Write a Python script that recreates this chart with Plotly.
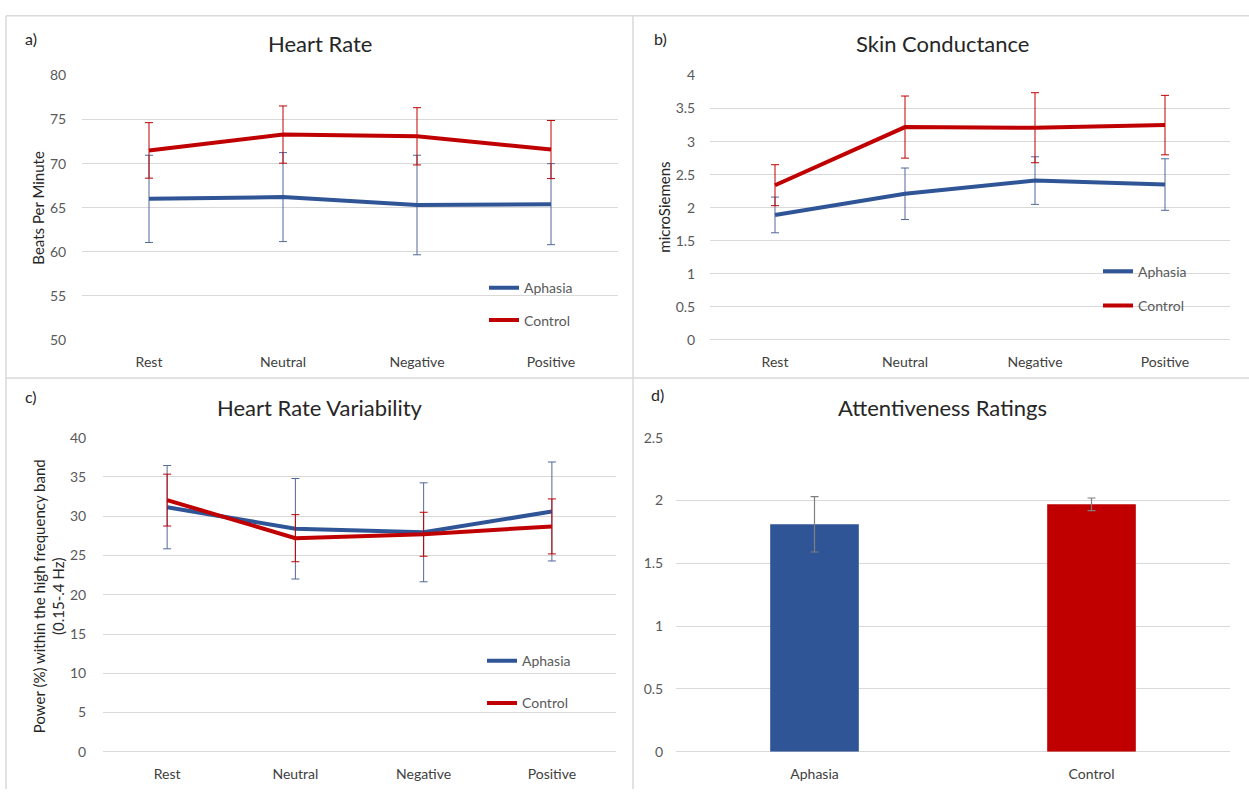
import plotly.graph_objects as go

W, H = 1249, 797
FONT = "Lato"

conditions = ["Rest", "Neutral", "Negative", "Positive"]

hr_aphasia = [66.0, 66.2, 65.3, 65.4]
hr_aphasia_err = [4.95, 5.05, 5.65, 4.6]
hr_control = [71.5, 73.3, 73.1, 71.6]
hr_control_err = [3.15, 3.25, 3.25, 3.3]

sc_aphasia = [1.89, 2.21, 2.41, 2.35]
sc_aphasia_err = [0.27, 0.39, 0.36, 0.39]
sc_control = [2.34, 3.22, 3.21, 3.25]
sc_control_err = [0.31, 0.47, 0.53, 0.45]

hrv_aphasia = [31.15, 28.4, 27.95, 30.6]
hrv_aphasia_err = [5.3, 6.4, 6.3, 6.3]
hrv_control = [32.05, 27.2, 27.7, 28.7]
hrv_control_err = [3.3, 3.0, 2.8, 3.5]

groups = ["Aphasia", "Control"]
attentiveness = [1.81, 1.97]
attentiveness_err = [0.22, 0.05]

BLUE = "#2F5597"
RED = "#C00000"
BLUE_ERR = "#50699A"
GRID = "#D9D9D9"
TICK = "#595959"


def px_x(p):
    return p / W


def px_y(p):
    return 1 - p / H


fig = go.Figure()

panels = [
    ("x", "y", hr_aphasia, hr_aphasia_err, hr_control, hr_control_err, "legend"),
    ("x2", "y2", sc_aphasia, sc_aphasia_err, sc_control, sc_control_err, "legend2"),
    ("x3", "y3", hrv_aphasia, hrv_aphasia_err, hrv_control, hrv_control_err, "legend3"),
]

for i, (xa, ya, av, ae, cv, ce, lg) in enumerate(panels):
    fig.add_trace(go.Scatter(
        x=conditions, y=av, mode="lines", name="Aphasia",
        line=dict(color=BLUE, width=4),
        error_y=dict(type="data", array=ae, visible=True, color=BLUE_ERR, thickness=1, width=4),
        xaxis=xa, yaxis=ya, legend=lg, legendgroup=f"a{i}", showlegend=True,
    ))
    fig.add_trace(go.Scatter(
        x=conditions, y=cv, mode="lines", name="Control",
        line=dict(color=RED, width=4),
        error_y=dict(type="data", array=ce, visible=True, color=RED, thickness=1, width=4),
        xaxis=xa, yaxis=ya, legend=lg, legendgroup=f"c{i}", showlegend=True,
    ))

fig.add_trace(go.Bar(
    x=groups, y=attentiveness,
    marker=dict(color=[BLUE, RED], line=dict(width=0)),
    error_y=dict(type="data", array=attentiveness_err, visible=True, color="#7F7F7F", thickness=1.2, width=4),
    xaxis="x4", yaxis="y4", showlegend=False, width=0.32,
))

axis_font = dict(family=FONT, size=14, color=TICK)


def xaxis(dom, anchor, ncat):
    return dict(domain=[px_x(dom[0]), px_x(dom[1])], anchor=anchor, type="category",
                range=[-0.5, ncat - 0.5], showgrid=False, showline=False, zeroline=False,
                ticks="outside", ticklen=9, tickcolor="rgba(0,0,0,0)",
                tickfont=dict(family=FONT, size=14, color="#404040"), fixedrange=True)


def yaxis(dom, anchor, rng, dtick, standoff):
    return dict(domain=[px_y(dom[1]), px_y(dom[0])], anchor=anchor, range=rng, dtick=dtick,
                showgrid=True, gridcolor=GRID, gridwidth=1, zeroline=True, zerolinecolor=GRID,
                zerolinewidth=1, showline=False, ticks="outside", ticklen=standoff,
                tickcolor="rgba(0,0,0,0)", tickfont=axis_font, fixedrange=True)


fig.update_layout(
    width=W, height=H,
    margin=dict(l=0, r=0, t=0, b=0),
    paper_bgcolor="white", plot_bgcolor="white",
    font=dict(family=FONT, color="#404040"),
    xaxis=xaxis((82, 618), "y", 4),
    yaxis=yaxis((68, 338), "x", [50, 80], 5, 12),
    xaxis2=xaxis((710, 1230), "y2", 4),
    yaxis2=yaxis((68, 338), "x2", [0, 4], 0.5, 11),
    xaxis3=xaxis((103, 616), "y3", 4),
    yaxis3=yaxis((438, 759), "x3", [0, 40], 5, 13),
    xaxis4=xaxis((676, 1230), "y4", 2),
    yaxis4=yaxis((438, 759), "x4", [0, 2.5], 0.5, 9),
    bargap=0.68,
)

leg_common = dict(xanchor="left", yanchor="top", bgcolor="rgba(0,0,0,0)",
                  font=dict(family=FONT, size=14, color=TICK), traceorder="grouped",
                  itemwidth=30, itemclick=False, itemdoubleclick=False)
fig.update_layout(
    legend=dict(x=px_x(484), y=px_y(269), tracegroupgap=11, **leg_common),
    legend2=dict(x=px_x(1098), y=px_y(252), tracegroupgap=13, **leg_common),
    legend3=dict(x=px_x(482), y=px_y(650), tracegroupgap=21, **leg_common),
)

annotations = []
titles = [("Heart Rate", 320, 35), ("Skin Conductance", 942, 35),
          ("Heart Rate Variability", 320, 407), ("Attentiveness Ratings", 942, 407)]
for t, cx, cy in titles:
    annotations.append(dict(text=t, x=px_x(cx), y=px_y(cy), xref="paper", yref="paper",
                            showarrow=False, xanchor="center", yanchor="middle",
                            font=dict(family=FONT, size=22, color="#262626")))
labels = [("a)", 31, 30), ("b)", 660, 30), ("c)", 31, 396), ("d)", 657, 394)]
for t, cx, cy in labels:
    annotations.append(dict(text=t, x=px_x(cx), y=px_y(cy), xref="paper", yref="paper",
                            showarrow=False, xanchor="center", yanchor="middle",
                            font=dict(family=FONT, size=16, color="#262626")))
ytitles = [("Beats Per Minute", 38, 203), ("microSiemens", 664, 203),
           ("Power (%) within the high frequency band<br>(0.15-.4 Hz)", 49, 600)]
for t, cx, cy in ytitles:
    annotations.append(dict(text=t, x=px_x(cx), y=px_y(cy), xref="paper", yref="paper",
                            showarrow=False, xanchor="center", yanchor="middle", textangle=-90,
                            font=dict(family=FONT, size=15, color="#262626")))
fig.update_layout(annotations=annotations)

border = dict(color=GRID, width=1.5)
shapes = [
    dict(type="line", xref="paper", yref="paper", x0=px_x(6), x1=1, y0=px_y(7), y1=px_y(7), line=border),
    dict(type="line", xref="paper", yref="paper", x0=px_x(6), x1=px_x(6), y0=px_y(7), y1=0, line=border),
    dict(type="line", xref="paper", yref="paper", x0=px_x(633), x1=px_x(633), y0=px_y(7), y1=0, line=border),
    dict(type="line", xref="paper", yref="paper", x0=px_x(6), x1=1, y0=px_y(377), y1=px_y(377), line=border),
]
fig.update_layout(shapes=shapes)

page_fix = (
    "var b=document.body,h=document.documentElement;"
    "b.style.margin='0';b.style.padding='0';b.style.overflow='hidden';"
    "b.style.height='797px';h.style.overflow='hidden';h.style.height='797px';"
    "var d=document.querySelector('.plotly-graph-div');"
    "if(d){d.style.position='fixed';d.style.top='0px';d.style.left='0px';}"
)

fig.write_html("out.html", config={"displayModeBar": False}, post_script=page_fix)
